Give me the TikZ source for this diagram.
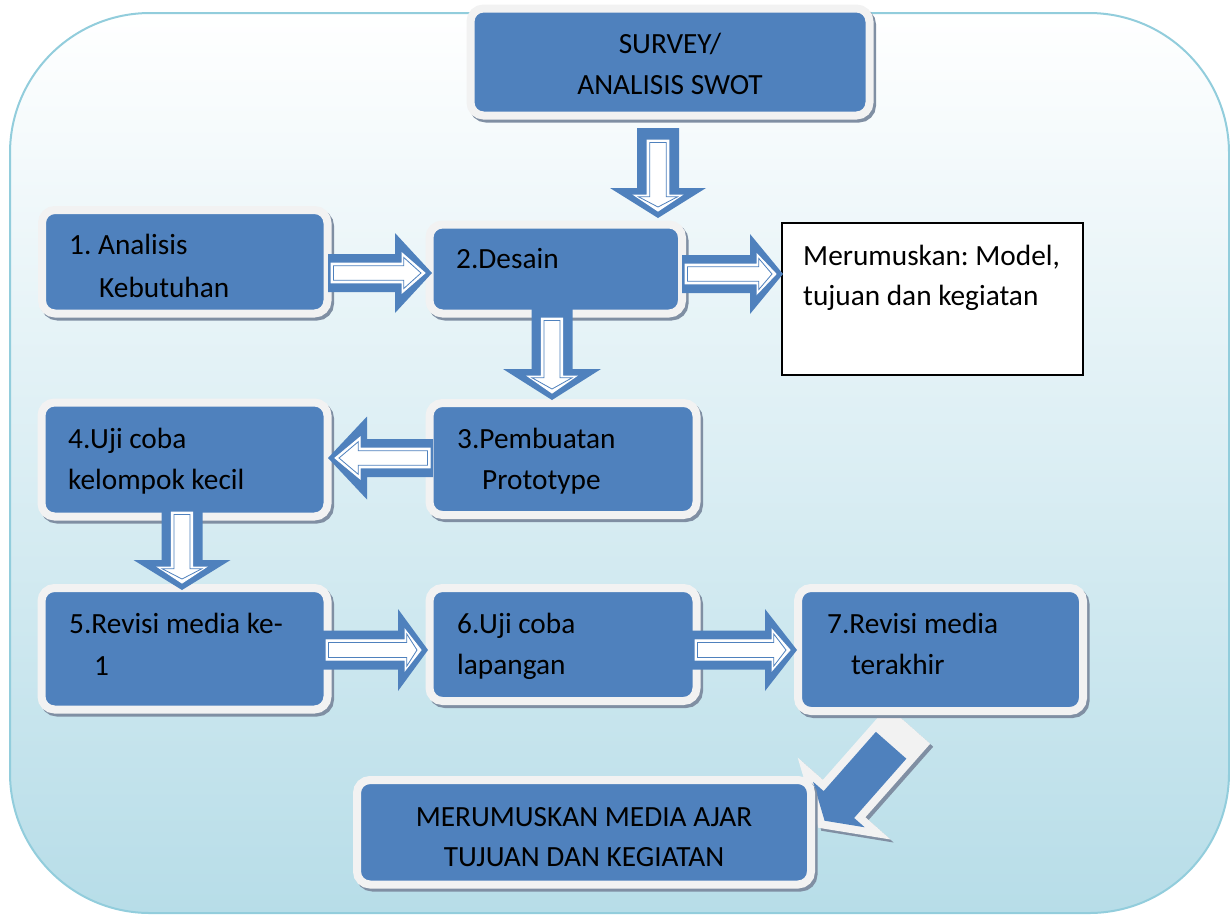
\documentclass[tikz,border=0pt]{standalone}
\usepackage{fontspec}
\newfontfamily\boxfont{Carlito}
\usetikzlibrary{calc}
\pgfdeclarelayer{bglayer}
\pgfdeclarelayer{midlayer}
\pgfdeclarelayer{toplayer}
\pgfsetlayers{bglayer,midlayer,main,toplayer}
\definecolor{boxblue}{RGB}{79,129,189}
\definecolor{boxborder}{RGB}{242,242,242}
\definecolor{boxshadow}{RGB}{128,143,163}
\definecolor{bgborder}{RGB}{146,205,220}
\definecolor{bgbottom}{RGB}{183,221,232}
\frenchspacing

% #1 start, #2 end, #3 shaft half width, #4 head half width, #5 head length, #6 inner start
\newcommand\blockarrow[6]{%
  \path let \p1=#1, \p2=#2, \n1={atan2(\y2-\y1,\x2-\x1)}, \n2={veclen(\x2-\x1,\y2-\y1)} in
    \pgfextra{\xdef\arAng{\n1}\xdef\arLen{\n2}};
  \pgfmathsetmacro\arHB{\arLen-#5}
  \pgfmathsetmacro\arA{0.52*#3}
  \pgfmathsetmacro\arB{0.5*#4}
  \pgfmathsetmacro\arIB{\arHB+7}
  \pgfmathsetmacro\arIT{\arLen-7}
  \pgfmathsetmacro\arAA{\arA-2.6}
  \pgfmathsetmacro\arBB{\arB-4.5}
  \pgfmathsetmacro\arIBB{\arIB+1.8}
  \pgfmathsetmacro\arITT{\arIT-4}
  \pgfmathsetmacro\arD{#6+2.5}
  \begin{scope}[shift={#1},rotate=\arAng]
    \fill[boxblue] (0,-#3) -- (\arHB,-#3) -- (\arHB,-#4) -- (\arLen,0) -- (\arHB,#4) -- (\arHB,#3) -- (0,#3) -- cycle;
    \filldraw[fill=white, draw=white, line width=1pt, line join=miter] (#6,-\arA) -- (\arIB,-\arA) -- (\arIB,-\arB) -- (\arIT,0) -- (\arIB,\arB) -- (\arIB,\arA) -- (#6,\arA) -- cycle;
    \draw[boxblue, line width=0.8pt, line join=miter] (\arD,-\arAA) -- (\arIBB,-\arAA) -- (\arIBB,-\arBB) -- (\arITT,0) -- (\arIBB,\arBB) -- (\arIBB,\arAA) -- (\arD,\arAA) -- cycle;
  \end{scope}%
}

\tikzset{
  bluebox/.style={shape=rectangle, draw=boxborder, line width=8pt, fill=boxblue,
    rounded corners=13pt, inner sep=0pt, outer sep=0pt,
    preaction={draw=boxshadow, fill=boxshadow, line width=8pt,
      transform canvas={xshift=2.5pt,yshift=-3pt}}},
  whitebox/.style={shape=rectangle, draw=black, line width=1.5pt, fill=white, inner sep=0pt, outer sep=0pt},
  txt/.style={anchor=base west, inner sep=0pt, font={\boxfont\fontsize{29.3pt}{35pt}\selectfont}},
  ctxt/.style={anchor=base, inner sep=0pt, font={\boxfont\fontsize{29.3pt}{35pt}\selectfont}},
}

\begin{document}
\begin{tikzpicture}[x=1pt,y=-1pt]
\useasboundingbox (0,0) rectangle (1230,914);

\begin{pgfonlayer}{bglayer}
  \draw[bgborder, line width=2pt, top color=white, bottom color=bgbottom, rounded corners=140pt]
    (10,13) rectangle (1229,913);
\end{pgfonlayer}

% boxes
\node[bluebox, minimum width=399pt, minimum height=107pt] (survey) at (670,62) {};
\node[bluebox, minimum width=285.5pt, minimum height=103.5pt] (b1) at (184.75,261.75) {};
\node[bluebox, minimum width=252.5pt, minimum height=89pt] (b2) at (555.75,269) {};
\node[whitebox, minimum width=301pt, minimum height=152pt] (wbox) at (932.5,299) {};
\node[bluebox, minimum width=267pt, minimum height=112pt] (b3) at (563,459) {};
\node[bluebox, minimum width=286pt, minimum height=114pt] (b4) at (184.5,459.5) {};
\node[bluebox, minimum width=286pt, minimum height=121.5pt] (b5) at (184.5,648.75) {};
\node[bluebox, minimum width=267pt, minimum height=113pt] (b6) at (563,644.5) {};
\node[bluebox, minimum width=285pt, minimum height=123pt] (b7) at (940.5,649.5) {};
\node[bluebox, minimum width=454pt, minimum height=104.5pt] (b8) at (584,832.25) {};

% texts
\node[ctxt] (ts1) at (670,53) {SURVEY/};
\node[ctxt] (ts2) at (670,94) {ANALISIS SWOT};
\node[txt] (t1a) at (69,254) {1. Analisis};
\node[txt] (t1b) at (99,297) {Kebutuhan};
\node[txt] (t2a) at (456,268) {2.Desain};
\node[txt] (twa) at (803,265) {Merumuskan: Model,};
\node[txt] (twb) at (803,305) {tujuan dan kegiatan};
\node[txt] (t3a) at (457,448) {3.Pembuatan};
\node[txt] (t3b) at (482,489) {Prototype};
\node[txt] (t4a) at (68,448) {4.Uji coba};
\node[txt] (t4b) at (68,489) {kelompok kecil};
\node[txt] (t5a) at (69,633) {5.Revisi media ke-};
\node[txt] (t5b) at (94,675) {1};
\node[txt] (t6a) at (457,633) {6.Uji coba};
\node[txt] (t6b) at (457,674) {lapangan};
\node[txt] (t7a) at (827,633) {7.Revisi media};
\node[txt] (t7b) at (851,674) {terakhir};
\node[ctxt] (t8a) at (584,826) {MERUMUSKAN MEDIA AJAR};
\node[ctxt] (t8b) at (584,866) {TUJUAN DAN KEGIATAN};

% diagonal arrow (behind boxes)
\begin{pgfonlayer}{midlayer}
  \begin{scope}[shift={($(b7.south)+(-32.5,21.5)$)}, rotate=-131.4]
    \fill[boxshadow] (-6,-28.3) -- (92,-28.3) -- (92,-62) -- (131,0) -- (92,62) -- (92,28.3) -- (-6,28.3) -- cycle;
  \end{scope}
  \begin{scope}[shift={($(b7.south)+(-35.5,18.5)$)}, rotate=-131.4]
    \fill[boxborder] (-6,-28.3) -- (92,-28.3) -- (92,-62) -- (131,0) -- (92,62) -- (92,28.3) -- (-6,28.3) -- cycle;
    \fill[boxblue] (21,-20.3) -- (100,-20.3) -- (100,-34.4) -- (121.6,0) -- (100,34.4) -- (100,20.3) -- (21,20.3) -- cycle;
  \end{scope}
\end{pgfonlayer}

% block arrows on top
\begin{pgfonlayer}{toplayer}
  \blockarrow{($(b1.east)+(0.5,11.25)$)}{($(b2.west)+(2.5,4)$)}{19}{40}{37}{3}
  \blockarrow{($(survey.south)+(-12,12.5)$)}{($(survey.south)+(-12,102.5)$)}{21}{48}{30}{12}
  \blockarrow{($(b2.east)+(0,5)$)}{($(wbox.west)+(1,-25)$)}{19}{40}{33}{3}
  \blockarrow{($(b2.south)+(-3.75,-4.5)$)}{($(b3.north)+(-11,-3)$)}{20.5}{49}{31}{9}
  \blockarrow{($(b3.west)+(3.5,-1)$)}{($(b4.east)+(0.5,-1.5)$)}{19}{41.5}{39}{3}
  \blockarrow{($(b4.south)+(-2.5,-5.5)$)}{($(b5.north)+(-2.5,2)$)}{20.5}{48.5}{30}{1}
  \blockarrow{($(b5.east)+(-4.5,1.25)$)}{($(b6.west)+(-1.5,5.5)$)}{19.5}{41}{30}{3}
  \blockarrow{($(b6.east)+(-4.5,5.5)$)}{($(b7.west)+(-1,0.5)$)}{19.5}{41}{32}{3}
\end{pgfonlayer}
\end{tikzpicture}
\end{document}
